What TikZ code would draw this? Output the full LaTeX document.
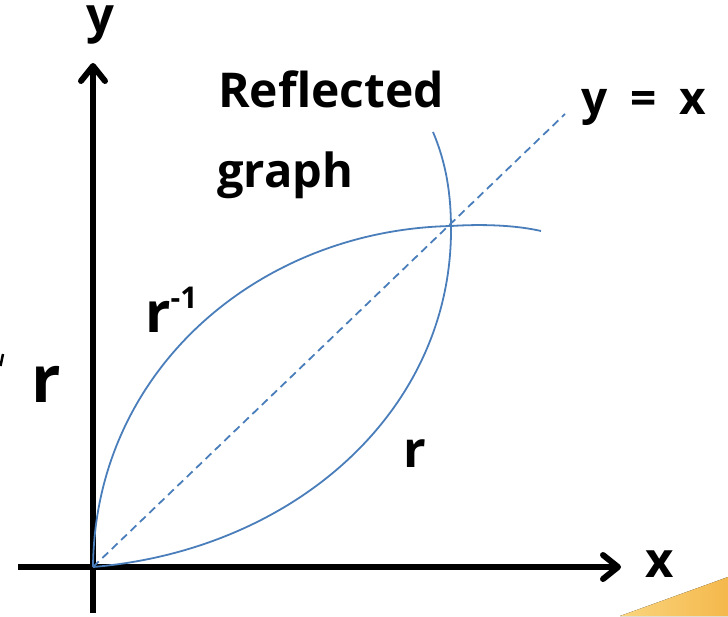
\documentclass[tikz,border=0pt]{standalone}
\usepackage{fontspec}
\setmainfont{Open Sans}
\usetikzlibrary{arrows.meta}
\definecolor{crv}{HTML}{4A7EBB}
\definecolor{orl}{HTML}{FAD57E}
\definecolor{orr}{HTML}{F4B84C}
\newcommand{\fsz}[1]{\fontsize{#1}{#1}\selectfont\bfseries}
\begin{document}
\begin{tikzpicture}[
    x=1pt,y=-1pt,
    axis/.style={line width=6pt,-{Straight Barb[length=15pt,width=24pt,line cap=round,line join=round]}},
    crvline/.style={crv,line width=1.8pt},
    diag/.style={crv,line width=1.8pt,dash pattern=on 8pt off 5pt},
    lbl/.style={inner sep=0pt,anchor=base west}
]
\useasboundingbox (0,0) rectangle (728,616);
\fill[left color=orl,right color=orr] (620,616) -- (728,577) -- (728,616) -- cycle;

\coordinate (O) at (93,567);
\coordinate (xs) at (18,567);
\coordinate (xe) at (621,567);
\coordinate (ys) at (93,613);
\coordinate (ye) at (93,63);
\coordinate (I) at (451,226);
\coordinate (dend) at (565,114);
\coordinate (uend) at (541,231);
\coordinate (lend) at (433,132);

\draw[axis] (xs) -- (xe);
\draw[axis] (ys) -- (ye);

\draw[diag] (O) -- (dend);
% r^-1 and its tail
\draw[crvline] (O) .. controls (95,368) and (261,230) .. (I)
    .. controls (481,224) and (515,225) .. (uend);
% r and its tail
\draw[crvline] (O) .. controls (295,550) and (453,410) .. (I)
    .. controls (450.7,196) and (447,165) .. (lend);

\node[lbl,text height=26pt] (ylab) at (86,32) {\fsz{49}y};
\node[lbl] (xlab) at (645,577) {\fsz{49}x};
\node[lbl] (refl) at (218,107) {\fsz{48}Reflected};
\node[lbl] (grph) at (217,187) {\fsz{47}graph};
\node[lbl] (yeqx) at (581,114) {\fsz{46}y\hspace{0.5em}=\hspace{0.5em}x};
\node[lbl] (rinv) at (145,332) {\fsz{56}r\raisebox{24pt}{\fsz{30}-1}};
\node[lbl] (rlow) at (403,467) {\fsz{50}r};
\node[lbl] (rleft) at (31,402) {\fsz{65}r};
\draw[line width=2.5pt] (0.5,366) -- (3,354);
\end{tikzpicture}
\end{document}
